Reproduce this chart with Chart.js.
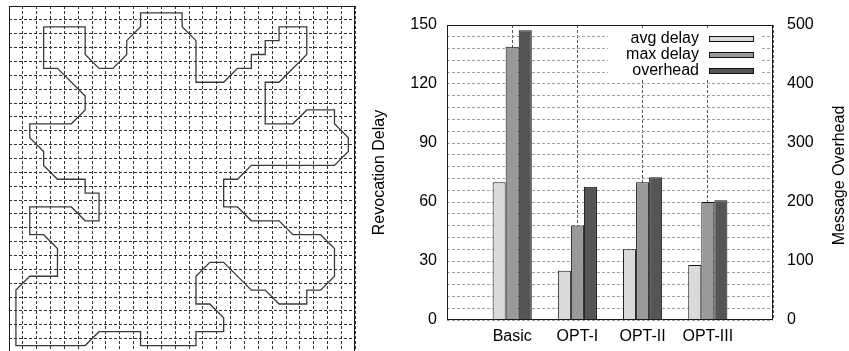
<!DOCTYPE html>
<html>
<head>
<meta charset="utf-8">
<script src="https://cdn.jsdelivr.net/npm/chart.js@4"></script>
<style>
  html, body { margin: 0; padding: 0; background: #fff; overflow: hidden; }
  body { width: 849px; height: 351px; position: relative; }
  #mapChart { position: absolute; left: 0; top: 0; }
  #barChart { position: absolute; left: 360px; top: 0; }
</style>
</head>
<body>
<canvas id="mapChart" width="360" height="360"></canvas>
<canvas id="barChart" width="489" height="351"></canvas>
<script>
// outline of the region on the 25 x 25 cell map (cell centres, row 0 at the top)
const outlineX = [2.5, 5.5, 5.5, 6.5, 7.5, 8.5, 8.5, 9.5, 9.5, 12.5,
  12.5, 13.5, 13.5, 15.5, 16.5, 17.5, 17.5, 18.5, 18.5, 19.5,
  19.5, 21.5, 21.5, 19.5, 18.5, 18.5, 20.5, 21.5, 23.5, 23.5,
  24.5, 24.5, 23.5, 17.5, 16.5, 15.5, 15.5, 16.5, 17.5, 19.5,
  20.5, 22.5, 23.5, 23.5, 22.5, 21.5, 21.5, 19.5, 18.5, 17.5,
  15.5, 14.5, 13.5, 13.5, 14.5, 15.5, 15.5, 13.5, 13.5, 9.5,
  9.5, 6.5, 5.5, 0.5, 0.5, 1.5, 3.5, 3.5, 2.5, 1.5,
  1.5, 4.5, 5.5, 6.5, 6.5, 5.5, 5.5, 3.5, 2.5, 2.5,
  1.5, 1.5, 4.5, 5.5, 5.5, 3.5, 2.5, 2.5];
const outlineY = [1.5, 1.5, 3.5, 4.5, 4.5, 3.5, 2.5, 1.5, 0.5, 0.5,
  1.5, 2.5, 5.5, 5.5, 4.5, 4.5, 3.5, 3.5, 2.5, 2.5,
  1.5, 1.5, 3.5, 5.5, 5.5, 8.5, 8.5, 7.5, 7.5, 8.5,
  9.5, 10.5, 11.5, 11.5, 12.5, 12.5, 14.5, 14.5, 15.5, 15.5,
  16.5, 16.5, 17.5, 19.5, 20.5, 20.5, 21.5, 21.5, 20.5, 20.5,
  18.5, 18.5, 19.5, 21.5, 21.5, 22.5, 23.5, 23.5, 24.5, 24.5,
  23.5, 23.5, 24.5, 24.5, 20.5, 19.5, 19.5, 17.5, 16.5, 16.5,
  14.5, 14.5, 15.5, 15.5, 13.5, 13.5, 12.5, 12.5, 11.5, 10.5,
  9.5, 8.5, 8.5, 7.5, 6.5, 4.5, 4.5, 1.5];

// bar chart
const categories = ['Basic', 'OPT-I', 'OPT-II', 'OPT-III'];
const seriesNames = ['avg delay', 'max delay', 'overhead'];
const avgDelay = [70, 25, 36, 28];
const maxDelay = [139, 48, 70, 60];
const overhead = [491, 226, 242, 203];

const FONT = "'Liberation Sans', Arial, Helvetica, sans-serif";
Chart.defaults.font.family = FONT;
Chart.defaults.font.size = 16;
Chart.defaults.color = '#000';

// closed box round the plot area
const framePlugin = {
  id: 'frame',
  afterDatasetsDraw(chart) {
    const { ctx, chartArea: a } = chart;
    const l = Math.round(a.left), t = Math.round(a.top);
    const r = Math.round(a.right), b = Math.round(a.bottom);
    ctx.save();
    ctx.strokeStyle = '#1a1a1a';
    ctx.lineWidth = 1;
    ctx.strokeRect(l + 0.5, t + 0.5, r - l - 1, b - t - 1);
    ctx.restore();
  }
};

// gnuplot style key (text left of the sample) and the right axis title
const keyPlugin = {
  id: 'key',
  afterDatasetsDraw(chart) {
    const ctx = chart.ctx;
    const a = chart.chartArea;
    ctx.save();
    ctx.fillStyle = '#fff';
    ctx.fillRect(248, 30, 154, 48);
    ctx.font = '16px ' + FONT;
    ctx.textAlign = 'right';
    ctx.textBaseline = 'middle';
    chart.data.datasets.forEach((ds, i) => {
      const y = 39 + i * 16;
      ctx.fillStyle = '#000';
      ctx.fillText(ds.label, 339, y);
      ctx.fillStyle = ds.backgroundColor;
      ctx.fillRect(349.5, y - 2.5, 44, 5);
      ctx.strokeStyle = '#111';
      ctx.lineWidth = 1;
      ctx.strokeRect(349.5, y - 2.5, 44, 5);
    });
    ctx.translate(480, (a.top + a.bottom) / 2 + 3);
    ctx.rotate(-Math.PI / 2);
    ctx.textAlign = 'center';
    ctx.fillStyle = '#000';
    ctx.fillText('Message Overhead', 0, 0);
    ctx.restore();
  }
};

new Chart(document.getElementById('mapChart'), {
  type: 'scatter',
  data: {
    datasets: [{
      data: outlineX.map((x, i) => ({ x: x, y: outlineY[i] })),
      showLine: true,
      fill: false,
      tension: 0,
      borderColor: '#3a3a3a',
      borderWidth: 1.3,
      pointRadius: 0
    }]
  },
  options: {
    responsive: false,
    animation: false,
    events: [],
    layout: { padding: { left: 9, top: 6, right: 4.75, bottom: 7.5 } },
    plugins: { legend: { display: false }, tooltip: { enabled: false } },
    scales: {
      x: {
        type: 'linear', min: 0, max: 25,
        ticks: { display: false, stepSize: 1 },
        grid: { color: '#333', drawTicks: false },
        border: { display: false, dash: [3, 2] },
        afterFit: s => { s.height = 0; }
      },
      y: {
        type: 'linear', min: 0, max: 25, reverse: true,
        ticks: { display: false, stepSize: 1 },
        grid: { color: '#333', drawTicks: false },
        border: { display: false, dash: [3, 2] },
        afterFit: s => { s.width = 0; }
      }
    }
  },
  plugins: [framePlugin]
});

const padded = arr => [null, ...arr, null];

new Chart(document.getElementById('barChart'), {
  type: 'bar',
  data: {
    labels: ['', ...categories, ''],
    datasets: [
      { label: seriesNames[0], data: padded(avgDelay), backgroundColor: '#dadada', yAxisID: 'y' },
      { label: seriesNames[1], data: padded(maxDelay), backgroundColor: '#999999', yAxisID: 'y' },
      { label: seriesNames[2], data: padded(overhead), backgroundColor: '#555555', yAxisID: 'y1' }
    ]
  },
  options: {
    responsive: false,
    animation: false,
    events: [],
    datasets: {
      bar: { borderColor: '#111', borderWidth: 1, categoryPercentage: 0.6, barPercentage: 1 }
    },
    layout: { padding: { top: 25, left: 0, right: 0, bottom: 0 } },
    plugins: { legend: { display: false }, tooltip: { enabled: false } },
    scales: {
      x: {
        offset: false,
        grid: { offset: false, color: '#555', drawTicks: false },
        border: { display: false, dash: [3, 2] },
        ticks: { padding: 7, maxRotation: 0, autoSkip: false },
        afterFit: s => { s.height = 31; }
      },
      y: {
        position: 'left', min: 0, max: 150,
        ticks: { stepSize: 6, autoSkip: false, padding: 10, callback: v => (v % 30 === 0 ? v : '') },
        grid: { color: '#a0a0a0', drawTicks: false },
        border: { display: false, dash: [3, 2] },
        title: { display: true, text: 'Revocation Delay', padding: { top: 10, bottom: 0 } },
        afterFit: s => { s.width = 87; }
      },
      y1: {
        position: 'right', min: 0, max: 500,
        ticks: { stepSize: 100, padding: 14 },
        grid: { drawOnChartArea: false, drawTicks: false },
        border: { display: false },
        afterFit: s => { s.width = 76; }
      }
    }
  },
  plugins: [framePlugin, keyPlugin]
});
</script>
</body>
</html>
